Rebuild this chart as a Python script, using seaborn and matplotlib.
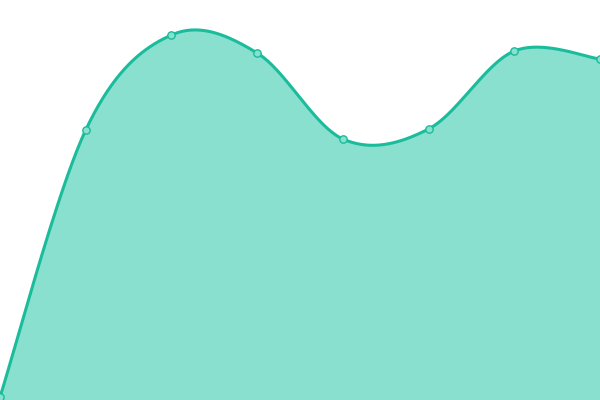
import matplotlib
matplotlib.use("Agg")
import matplotlib.pyplot as plt
import numpy as np
import pandas as pd
import seaborn as sns

# Data
x_vals = [0, 1, 2, 3, 4, 5, 6, 7]
y_vals = [3, 270, 365, 347, 261, 271, 349, 341]

LINE = "#1abc9c"
FILL = "#89e0cf"


def catmull_rom(xs, ys, steps=40):
    # smooth curve through the points (for drawing only)
    px = np.array([xs[0]] + list(xs) + [xs[-1]], dtype=float)
    py = np.array([ys[0]] + list(ys) + [ys[-1]], dtype=float)
    out_x, out_y = [], []
    for i in range(1, len(px) - 2):
        t = np.linspace(0, 1, steps, endpoint=False)
        for p, out in ((px, out_x), (py, out_y)):
            p0, p1, p2, p3 = p[i - 1], p[i], p[i + 1], p[i + 2]
            out.extend(0.5 * ((2 * p1) + (-p0 + p2) * t
                              + (2 * p0 - 5 * p1 + 4 * p2 - p3) * t ** 2
                              + (-p0 + 3 * p1 - 3 * p2 + p3) * t ** 3))
    out_x.append(xs[-1])
    out_y.append(ys[-1])
    return np.array(out_x), np.array(out_y)


df = pd.DataFrame({"x": x_vals, "y": y_vals})
sx, sy = catmull_rom(x_vals, y_vals)
curve = pd.DataFrame({"x": sx, "y": sy})

sns.set_style("white")
fig = plt.figure(figsize=(6, 4), dpi=100)
ax = fig.add_axes([0, 0, 1, 1])

ax.fill_between(curve["x"], curve["y"], 0, color=FILL, linewidth=0)
sns.lineplot(data=curve, x="x", y="y", ax=ax, color=LINE, linewidth=2.2, sort=False)
sns.scatterplot(data=df, x="x", y="y", ax=ax, s=28, color=FILL,
                edgecolor=LINE, linewidth=1, zorder=5)

ax.set_xlim(0, 7)
ax.set_ylim(0, 400)
ax.axis("off")

fig.savefig("out.png", dpi=100)
